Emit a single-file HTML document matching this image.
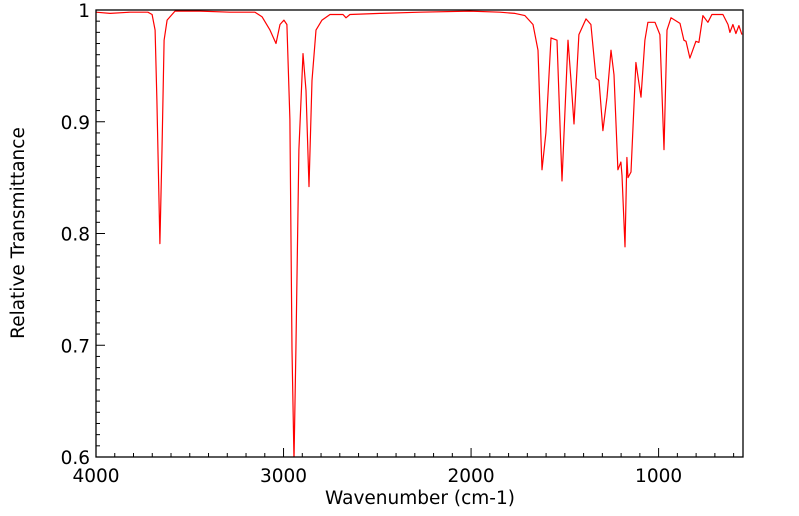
<!DOCTYPE html>
<html><head><meta charset="utf-8"><style>
html,body{margin:0;padding:0;background:#fff;}
svg{display:block;font-family:"DejaVu Sans","Liberation Sans",sans-serif;}
</style></head><body>
<svg id="c" width="799" height="516"></svg>
<script>
const wavenumbers=[4000,3925,3819,3723,3701,3685,3675,3659,3648,3637,3621,3579,3445,3286,3152,3115,3072,3040,3019,2998,2982,2966,2955,2944,2934,2918,2896,2880,2864,2848,2827,2795,2752,2683,2667,2646,2486,2272,2006,1846,1766,1713,1670,1643,1622,1601,1574,1542,1515,1483,1467,1451,1425,1387,1361,1334,1318,1297,1275,1254,1238,1217,1201,1195,1179,1169,1163,1147,1121,1094,1073,1057,1019,993,971,955,934,886,865,854,833,801,785,764,737,716,657,630,620,604,588,572,556];
const transmittance=[0.998,0.997,0.998,0.998,0.996,0.982,0.919,0.791,0.875,0.973,0.991,0.999,0.999,0.998,0.998,0.994,0.982,0.970,0.987,0.991,0.987,0.902,0.696,0.597,0.696,0.875,0.961,0.928,0.842,0.937,0.982,0.991,0.996,0.996,0.993,0.996,0.997,0.998,0.999,0.998,0.997,0.995,0.987,0.964,0.857,0.890,0.975,0.973,0.847,0.973,0.937,0.898,0.978,0.992,0.987,0.939,0.937,0.892,0.922,0.964,0.942,0.857,0.864,0.852,0.788,0.868,0.850,0.855,0.953,0.922,0.973,0.989,0.989,0.978,0.875,0.982,0.993,0.988,0.973,0.972,0.957,0.972,0.971,0.995,0.989,0.996,0.996,0.987,0.980,0.987,0.979,0.986,0.978];
const xTickLabels=[4000,3000,2000,1000];
const yTickLabels=[1,0.9,0.8,0.7,0.6];
const X0=96,X1=743,Y0=10,Y1=457,WMAX=4000,WMIN=550,TMAX=1,TMIN=0.6;
const sx=w=>X0+(WMAX-w)/(WMAX-WMIN)*(X1-X0);
const sy=t=>Y0+(TMAX-t)/(TMAX-TMIN)*(Y1-Y0);
const NS="http://www.w3.org/2000/svg";
const svg=document.getElementById('c');
function mk(tag,attrs,parent){const e=document.createElementNS(NS,tag);for(const k in attrs)e.setAttribute(k,attrs[k]);(parent||svg).appendChild(e);return e;}
const defs=mk('defs',{});
const cp=mk('clipPath',{id:'clip'},defs);
mk('rect',{x:X0,y:Y0,width:X1-X0,height:Y1-Y0},cp);
let d='';
wavenumbers.forEach((w,i)=>{d+=(i?'L':'M')+sx(w).toFixed(1)+','+sy(transmittance[i]).toFixed(1);});
const line=mk('path',{d:d,fill:'none',stroke:'#ff0000','stroke-width':1.2,'stroke-linejoin':'round','clip-path':'url(#clip)'});


const frame=mk('rect',{x:X0,y:Y0,width:X1-X0,height:Y1-Y0,fill:'none',stroke:'#000','stroke-width':1.3});


for(let w=4000;w>=WMIN;w-=100){
  const x=sx(w);const major=(w%1000===0);
  const t=mk('line',{x1:x,x2:x,y1:Y1,y2:Y1-(major?9:4),stroke:'#000','stroke-width':1});
  
  
}
xTickLabels.forEach(v=>{
  const t=mk('text',{x:sx(v),y:Y1+25,'text-anchor':'middle','font-size':18.5,fill:'#000'});
  t.textContent=v;
  
  
});
for(let k=0;k<=40;k++){
  const v=TMIN+k*0.01;const y=sy(v);const major=(k%10===0);
  const t=mk('line',{x1:X0,x2:X0+(major?9:4),y1:y,y2:y,stroke:'#000','stroke-width':1});
  
  
}
yTickLabels.forEach(v=>{
  const t=mk('text',{x:X0-6,y:sy(v)+7,'text-anchor':'end','font-size':18.5,fill:'#000'});
  t.textContent=v;
  
  
});
const xt=mk('text',{x:420,y:504,'text-anchor':'middle','font-size':18.5,fill:'#000'});
xt.textContent='Wavenumber (cm-1)';


const yt=mk('text',{x:0,y:0,'text-anchor':'middle','font-size':18.5,fill:'#000',transform:'translate(24,233) rotate(-90)'});
yt.textContent='Relative Transmittance';


</script>
</body></html>
